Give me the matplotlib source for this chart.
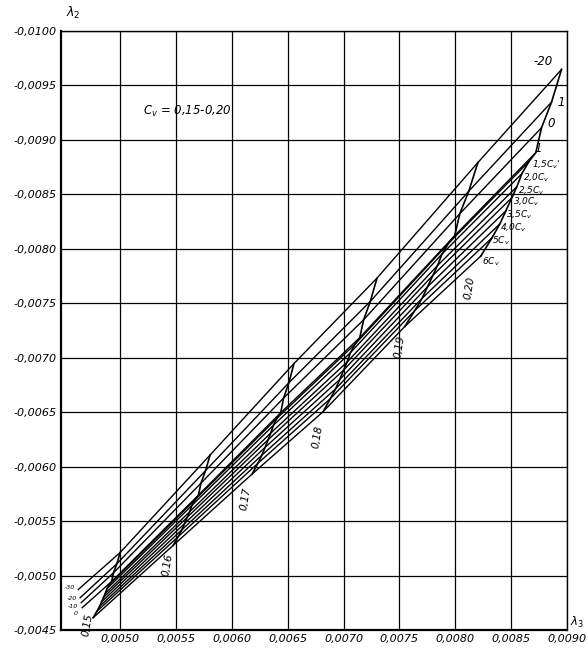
import matplotlib
matplotlib.use("Agg")
import matplotlib.pyplot as plt
from matplotlib.ticker import FixedLocator, FuncFormatter

plt.rcParams['font.family'] = ['DejaVu Sans']
plt.rcParams['mathtext.fontset'] = 'dejavusans'

# ---------------- data ----------------
cv_values = [0.15, 0.16, 0.17, 0.18, 0.19, 0.20]
cv_labels = ["0,15", "0,16", "0,17", "0,18", "0,19", "0,20"]

cs_labels = ["-20", "1", "0", "1", "1,5$C_v$'", "2,0$C_v$", "2,5$C_v$", "3,0$C_v$",
             "3,5$C_v$", "4,0$C_v$", "5$C_v$", "6$C_v$"]

# lambda3 / lambda2 of every Cs curve, one list per Cv value
lam3_cv015 = [0.005000, 0.004970, 0.004940, 0.004923, 0.004902, 0.004881,
              0.004866, 0.004851, 0.004833, 0.004815, 0.004791, 0.004758]
lam2_cv015 = [-0.005212, -0.005108, -0.005025, -0.004945, -0.004916, -0.004878,
              -0.004836, -0.004800, -0.004758, -0.004716, -0.004671, -0.004613]
lam3_cv016 = [0.005805, 0.005764, 0.005723, 0.005700, 0.005671, 0.005642,
              0.005622, 0.005601, 0.005577, 0.005552, 0.005519, 0.005474]
lam2_cv016 = [-0.006107, -0.005963, -0.005848, -0.005738, -0.005697, -0.005644,
              -0.005586, -0.005536, -0.005478, -0.005420, -0.005357, -0.005277]
lam3_cv017 = [0.006556, 0.006510, 0.006463, 0.006437, 0.006404, 0.006372,
              0.006348, 0.006325, 0.006297, 0.006269, 0.006232, 0.006181]
lam2_cv017 = [-0.006947, -0.006770, -0.006630, -0.006495, -0.006445, -0.006380,
              -0.006309, -0.006248, -0.006177, -0.006106, -0.006030, -0.005932]
lam3_cv018 = [0.007299, 0.007239, 0.007179, 0.007145, 0.007103, 0.007061,
              0.007031, 0.007001, 0.006966, 0.006929, 0.006882, 0.006816]
lam2_cv018 = [-0.007731, -0.007517, -0.007348, -0.007185, -0.007125, -0.007046,
              -0.006960, -0.006887, -0.006801, -0.006715, -0.006625, -0.006504]
lam3_cv019 = [0.008202, 0.008121, 0.008040, 0.007995, 0.007938, 0.007881,
              0.007841, 0.007800, 0.007752, 0.007703, 0.007638, 0.007549]
lam2_cv019 = [-0.008792, -0.008530, -0.008322, -0.008122, -0.008049, -0.007952,
              -0.007847, -0.007757, -0.007652, -0.007546, -0.007434, -0.007288]
lam3_cv020 = [0.008951, 0.008862, 0.008772, 0.008721, 0.008659, 0.008596,
              0.008551, 0.008506, 0.008453, 0.008399, 0.008328, 0.008229]
lam2_cv020 = [-0.009647, -0.009348, -0.009112, -0.008884, -0.008801, -0.008690,
              -0.008570, -0.008469, -0.008349, -0.008229, -0.008100, -0.007934]

# lower-left extensions of the four upper curves
ext_labels = ["-30", "-20", "-10", "0"]
ext_lam3 = [0.004624, 0.004642, 0.004651, 0.004660]
ext_lam2 = [-0.004871, -0.004797, -0.004751, -0.004705]

xtick_values = [0.0050, 0.0055, 0.0060, 0.0065, 0.0070, 0.0075, 0.0080, 0.0085, 0.0090]
ytick_values = [-0.0100, -0.0095, -0.0090, -0.0085, -0.0080, -0.0075, -0.0070,
                -0.0065, -0.0060, -0.0055, -0.0050, -0.0045]

lam3_cols = [lam3_cv015, lam3_cv016, lam3_cv017, lam3_cv018, lam3_cv019, lam3_cv020]
lam2_cols = [lam2_cv015, lam2_cv016, lam2_cv017, lam2_cv018, lam2_cv019, lam2_cv020]

# ---------------- figure ----------------
W, H = 588, 657
fig = plt.figure(figsize=(W / 100, H / 100), dpi=100)
ax = fig.add_axes([61 / W, 1 - 630 / H, (567 - 61) / W, (630 - 31) / H])
ax.set_xlim(0.00447, 0.0090)
ax.set_ylim(-0.0045, -0.0100)

ax.xaxis.set_major_locator(FixedLocator(xtick_values))
ax.yaxis.set_major_locator(FixedLocator(ytick_values))
fmt = FuncFormatter(lambda v, p: f"{v:.4f}".replace('.', ','))
ax.xaxis.set_major_formatter(fmt)
ax.yaxis.set_major_formatter(fmt)
ax.tick_params(length=0, pad=3, labelsize=8)
for lab in ax.get_xticklabels() + ax.get_yticklabels():
    lab.set_fontstyle('italic')
ax.grid(True, color='black', linewidth=0.9)
for s in ax.spines.values():
    s.set_linewidth(1.0)
ax.spines['left'].set_linewidth(1.6)
ax.spines['bottom'].set_linewidth(1.6)

# Cs curves
ncs = len(cs_labels)
for i in range(ncs):
    xs = [col[i] for col in lam3_cols]
    ys = [col[i] for col in lam2_cols]
    if i < len(ext_lam3):
        xs = [ext_lam3[i]] + xs
        ys = [ext_lam2[i]] + ys
    ax.plot(xs, ys, color='black', linewidth=1.0, solid_joinstyle='round')

# Cv paths
for j in range(len(cv_values)):
    ax.plot(lam3_cols[j], lam2_cols[j], color='black', linewidth=1.2)

# Cs labels at the Cv = 0.20 end
cs_offsets = [(-20, 6), (4, 0), (4, 3), (-1, 3), (2, -2), (1, -3), (1, -3),
              (1, -3), (0, -3), (0, -3), (0, -2), (1, -4)]
for i, lab in enumerate(cs_labels):
    fs = 8.5 if i < 4 else 6.5
    ax.annotate(lab, (lam3_cv020[i], lam2_cv020[i]), xytext=cs_offsets[i],
                textcoords='offset points', ha='left', va='center',
                fontsize=fs, fontstyle='italic')

# extension labels at lower left
ext_offsets = [(-2, 1.5), (-2, -0.5), (-2, -2.5), (-3, -4.5)]
for i, lab in enumerate(ext_labels):
    ax.annotate(lab, (ext_lam3[i], ext_lam2[i]), xytext=ext_offsets[i],
                textcoords='offset points', ha='right', va='center',
                fontsize=4.5, fontstyle='italic')

# Cv labels under the lowest curve
cv_offsets = [(-4, -5), (-4, -14), (-5, -18), (-4, -18), (-4, -15), (-8, -23)]
for j, lab in enumerate(cv_labels):
    ax.annotate(lab, (lam3_cols[j][-1], lam2_cols[j][-1]), xytext=cv_offsets[j],
                textcoords='offset points', ha='center', va='center',
                fontsize=7.5, fontstyle='italic', rotation=80)

ax.text(0.162, 0.865, "$C_v$ = 0,15-0,20", transform=ax.transAxes,
        fontsize=8.5, fontstyle='italic', va='center')
fig.text(66 / W, 1 - 13 / H, r"$\lambda_2$", fontsize=9, va='center')
fig.text(570 / W, 1 - 622 / H, r"$\lambda_3$", fontsize=8.5, va='center', ha='left')

fig.savefig("out.png", dpi=100)
